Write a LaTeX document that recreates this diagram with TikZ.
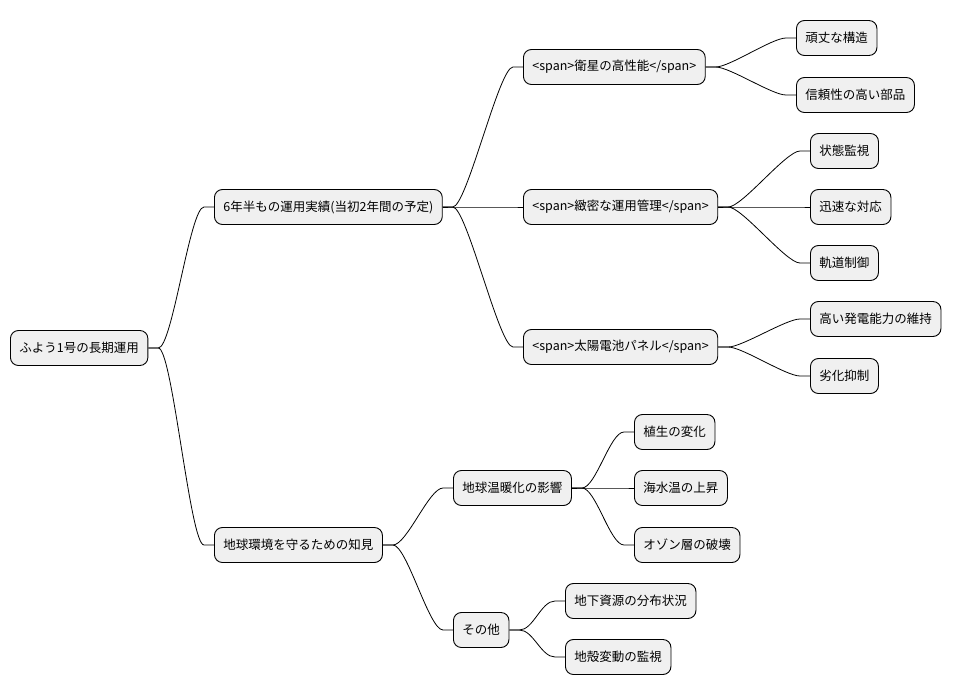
\documentclass[tikz,border=0pt]{standalone}
\usepackage{fontspec}
\setmainfont{Noto Sans CJK JP}
\begin{document}
\begin{tikzpicture}[x=1pt,y=-1pt,
  box/.style={draw=black,line width=0.9pt,fill=black!6,rounded corners=8pt,minimum height=35pt,inner xsep=9pt,anchor=west,font=\fontsize{12.5}{14}\selectfont},
  ln/.style={line width=0.8pt}]
\useasboundingbox (0,0) rectangle (967,696);
\node[box] (r) at (10,348) {ふよう1号の長期運用};
\node[box] (a) at (214,207) {6年半もの運用実績(当初2年間の予定)};
\node[box] (b) at (214,545) {地球環境を守るための知見};
\node[box] (a1) at (523,67) {<span>衛星の高性能</span>};
\node[box] (a2) at (523,207) {<span>緻密な運用管理</span>};
\node[box] (a3) at (523,347) {<span>太陽電池パネル</span>};
\node[box] (a1a) at (796,38) {頑丈な構造};
\node[box] (a1b) at (796,95) {信頼性の高い部品};
\node[box] (a2a) at (810,151) {状態監視};
\node[box] (a2b) at (810,207) {迅速な対応};
\node[box] (a2c) at (810,263) {軌道制御};
\node[box] (a3a) at (810,319) {高い発電能力の維持};
\node[box] (a3b) at (810,376) {劣化抑制};
\node[box] (b1) at (453,488) {地球温暖化の影響};
\node[box] (b2) at (453,630) {その他};
\node[box] (b1a) at (634,432) {植生の変化};
\node[box] (b1b) at (634,488) {海水温の上昇};
\node[box] (b1c) at (634,545) {オゾン層の破壊};
\node[box] (b2a) at (565,601) {地下資源の分布状況};
\node[box] (b2b) at (565,657) {地殻変動の監視};
\foreach \p/\c in {r/a,r/b,a/a1,a/a2,a/a3,a1/a1a,a1/a1b,a2/a2a,a2/a2b,a2/a2c,a3/a3a,a3/a3b,b/b1,b/b2,b1/b1a,b1/b1b,b1/b1c,b2/b2a,b2/b2b}
  \draw[ln] (\p.east) -- ++(10,0) .. controls +(14,0) and ([xshift=-24pt]\c.west) .. ([xshift=-10pt]\c.west) -- (\c.west);
\end{tikzpicture}
\end{document}
